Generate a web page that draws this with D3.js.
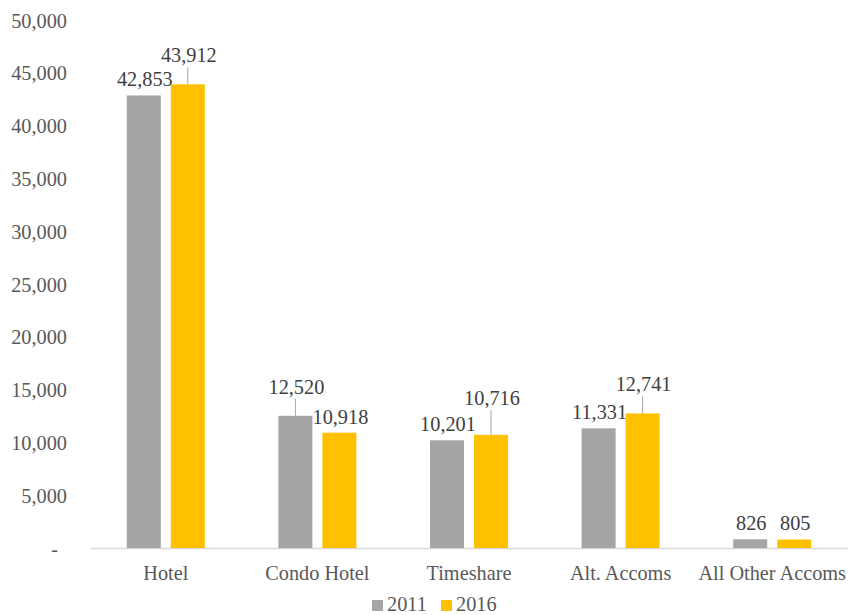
<!DOCTYPE html>
<html>
<head>
<meta charset="utf-8">
<script src="https://cdn.jsdelivr.net/npm/d3@7"></script>
<style>
  body { margin: 0; background: #fff; }
  svg { display: block; font-family: "Liberation Serif", "Times New Roman", serif; }
</style>
</head>
<body>
<svg id="chart" width="850" height="615"></svg>
<script>
const categories = ["Hotel", "Condo Hotel", "Timeshare", "Alt. Accoms", "All Other Accoms"];
const seriesNames = ["2011", "2016"];
const values2011 = [42853, 12520, 10201, 11331, 826];
const values2016 = [43912, 10918, 10716, 12741, 805];
const yTicks = [0, 5000, 10000, 15000, 20000, 25000, 30000, 35000, 40000, 45000, 50000];
const colors = ["#A5A5A5", "#FFC000"];
// extra label lift (px) for labels moved by the source to avoid overlap (leader lines drawn)
const labelLift2011 = [0, 13, 0, 0, 0];
const labelLift2016 = [13, 0, 21, 13, 0];

const svg = d3.select("#chart");
const margin = { left: 90, right: 848, top: 20, bottom: 548 };
const fontSize = 20.3;
const textColor = "#595959";

const x0 = d3.scaleBand().domain(categories).range([margin.left, margin.right]).padding(0);
const groupW = 78;
const x1 = d3.scaleBand().domain(seriesNames)
  .range([(x0.bandwidth() - groupW) / 2, (x0.bandwidth() + groupW) / 2])
  .paddingInner(10 / 44).paddingOuter(0);
const y = d3.scaleLinear().domain([0, 50000]).range([margin.bottom, margin.top]);

// y axis (labels only)
const yAxis = d3.axisLeft(y).tickValues(yTicks).tickSize(0).tickPadding(0)
  .tickFormat(d => d === 0 ? "-" : d3.format(",")(d));
const gy = svg.append("g").attr("transform", "translate(67,0)").call(yAxis);
gy.select(".domain").remove();
gy.selectAll("text").attr("font-size", fontSize).attr("fill", textColor)
  .attr("font-family", "Liberation Serif, serif").attr("dy", "0.35em")
  .attr("dx", d => d === 0 ? -9 : 0);

// x axis baseline
const xAxis = d3.axisBottom(x0).tickSize(0).tickPadding(0);
const gx = svg.append("g").attr("transform", `translate(0,${margin.bottom})`).call(xAxis);
gx.select(".domain").attr("stroke", "#D9D9D9").attr("stroke-width", 1.3);
gx.selectAll("text").attr("font-size", fontSize).attr("fill", textColor)
  .attr("font-family", "Liberation Serif, serif").attr("y", 32).attr("dy", 0);

const series = [values2011, values2016];
const lifts = [labelLift2011, labelLift2016];

series.forEach((vals, si) => {
  const g = svg.append("g");
  const name = seriesNames[si];
  g.selectAll("rect").data(vals).enter().append("rect")
    .attr("x", (d, i) => x0(categories[i]) + x1(name))
    .attr("y", d => y(d))
    .attr("width", x1.bandwidth())
    .attr("height", d => y(0) - y(d))
    .attr("fill", colors[si]);

  vals.forEach((d, i) => {
    const cx = x0(categories[i]) + x1(name) + x1.bandwidth() / 2;
    const lift = lifts[si][i];
    const baseY = y(d) - 9 - lift;
    if (lift > 0) {
      g.append("line")
        .attr("x1", cx).attr("x2", cx)
        .attr("y1", y(d)).attr("y2", baseY + 5)
        .attr("stroke", "#A6A6A6").attr("stroke-width", 1);
    }
    g.append("text")
      .attr("x", cx + 1).attr("y", baseY)
      .attr("text-anchor", "middle")
      .attr("font-size", fontSize).attr("fill", "#404040")
      .text(d3.format(",")(d));
  });
});

// legend
const legend = svg.append("g").attr("transform", "translate(372,611)");
const legendPos = [0, 69];
seriesNames.forEach((name, i) => {
  legend.append("rect").attr("x", legendPos[i]).attr("y", -11).attr("width", 11).attr("height", 11)
    .attr("fill", colors[i]);
  legend.append("text").attr("x", legendPos[i] + 15).attr("y", 0)
    .attr("font-size", fontSize).attr("fill", textColor).text(name);
});
</script>
</body>
</html>
